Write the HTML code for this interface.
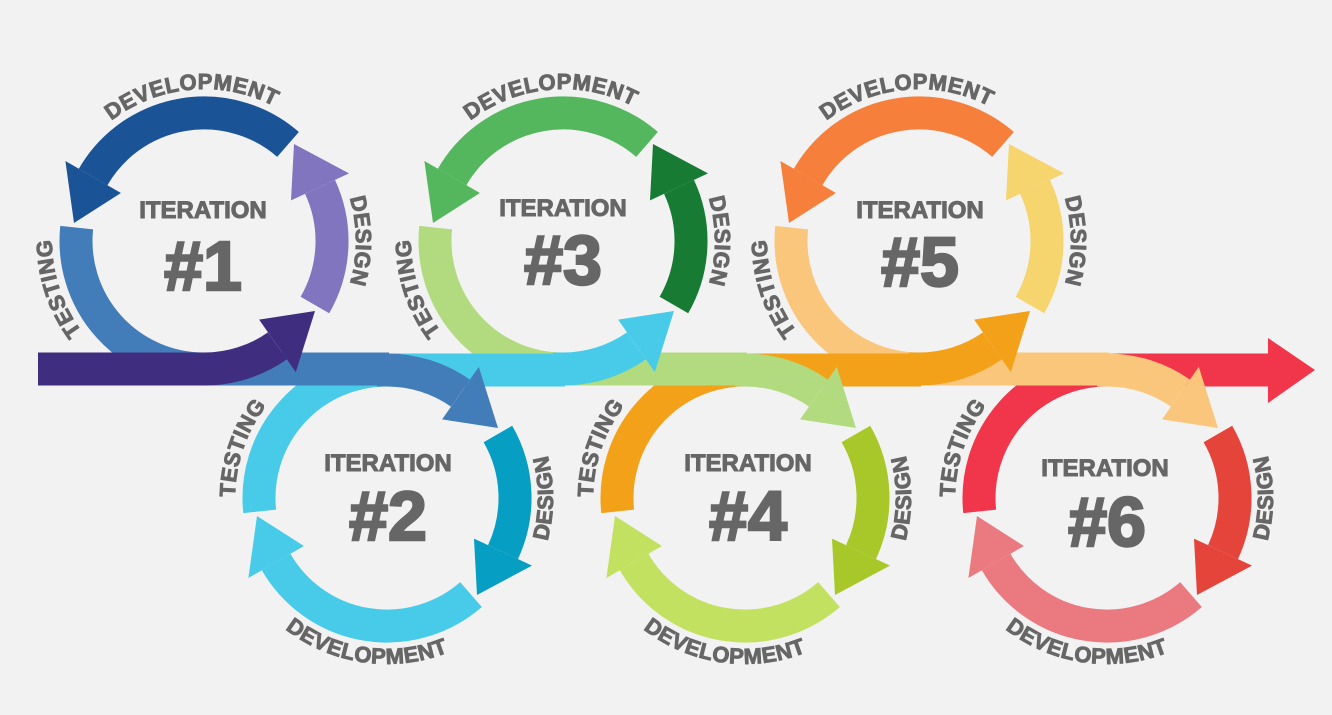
<!DOCTYPE html>
<html><head><meta charset="utf-8"><style>
html,body{margin:0;padding:0;background:#f2f2f2;}
svg{display:block;}
.lbl{font-family:"Liberation Sans",sans-serif;font-weight:bold;font-size:22px;letter-spacing:0.5px;fill:#666;stroke:#666;stroke-width:0.9px;}
.it{font-family:"Liberation Sans",sans-serif;font-weight:bold;font-size:24px;fill:#666;text-anchor:middle;stroke:#666;stroke-width:1px;}
.num{font-family:"Liberation Sans",sans-serif;font-weight:bold;font-size:70px;fill:#666;text-anchor:middle;stroke:#666;stroke-width:2.5px;}
path.s{fill:none;stroke-width:33;stroke-linecap:butt;}
</style></head><body>
<svg width="1332" height="715" viewBox="0 0 1332 715" xmlns="http://www.w3.org/2000/svg">
<rect width="1332" height="715" fill="#f2f2f2"/>

<g transform="translate(1107,498) scale(1,-1)">
 <path class="s" stroke="#f1354a" d="M-127.3,-13.4 A128,128 0 0 0 0,128 H163"/>
</g>
<polygon fill="#f1354a" points="1268,338 1315,370 1268,403"/>
<g transform="translate(919,241)">
 <path class="s" stroke="#f9c67c" d="M-127.3,-13.4 A128,128 0 0 0 0,128 H190"/>
</g>
<g transform="translate(1107,498) scale(1,-1)">
 <path class="s" stroke="#f9c67c" d="M-10,128 H0 A128,128 0 0 0 73.4,104.9"/>
 <polygon fill="#f9c67c" points="55.1,78.6 111,70 91.8,131.1"/>
</g>
<g transform="translate(745,498) scale(1,-1)">
 <path class="s" stroke="#f3a118" d="M-127.3,-13.4 A128,128 0 0 0 0,128 H176"/>
</g>
<g transform="translate(919,241)">
 <path class="s" stroke="#f3a118" d="M-10,128 H0 A128,128 0 0 0 73.4,104.9"/>
 <polygon fill="#f3a118" points="55.1,78.6 111,70 91.8,131.1"/>
</g>
<g transform="translate(563,241)">
 <path class="s" stroke="#b2db80" d="M-127.3,-13.4 A128,128 0 0 0 0,128 H184"/>
</g>
<g transform="translate(745,498) scale(1,-1)">
 <path class="s" stroke="#b2db80" d="M-10,128 H0 A128,128 0 0 0 73.4,104.9"/>
 <polygon fill="#b2db80" points="55.1,78.6 111,70 91.8,131.1"/>
</g>
<g transform="translate(387,498) scale(1,-1)">
 <path class="s" stroke="#48cbe8" d="M-127.3,-13.4 A128,128 0 0 0 0,128 H178"/>
</g>
<g transform="translate(563,241)">
 <path class="s" stroke="#48cbe8" d="M-10,128 H0 A128,128 0 0 0 73.4,104.9"/>
 <polygon fill="#48cbe8" points="55.1,78.6 111,70 91.8,131.1"/>
</g>
<g transform="translate(204,241)">
 <path class="s" stroke="#427cb9" d="M-127.3,-13.4 A128,128 0 0 0 0,128 H185"/>
</g>
<g transform="translate(387,498) scale(1,-1)">
 <path class="s" stroke="#427cb9" d="M-10,128 H0 A128,128 0 0 0 73.4,104.9"/>
 <polygon fill="#427cb9" points="55.1,78.6 111,70 91.8,131.1"/>
</g>
<g transform="translate(204,241)">
 <path class="s" stroke="#3f2e7f" d="M-166,128 H0 A128,128 0 0 0 73.4,104.9"/>
 <polygon fill="#3f2e7f" points="55.1,78.6 111,70 91.8,131.1"/>
</g>

<g transform="translate(204,241)">
 <path class="s" stroke="#1b5397" d="M84,-96.6 A128,128 0 0 0 -110.9,-64"/>
 <polygon fill="#1b5397" points="-138.6,-80 -130,-18 -83.1,-48"/>
 <path class="s" stroke="#8175bf" d="M110.9,64 A128,128 0 0 0 116,-54.1"/>
 <polygon fill="#8175bf" points="87,-40.6 90,-97 145,-67.6"/>
</g>
<g transform="translate(387,498) scale(1,-1)">
 <path class="s" stroke="#48cbe8" d="M84,-96.6 A128,128 0 0 0 -110.9,-64"/>
 <polygon fill="#48cbe8" points="-138.6,-80 -130,-18 -83.1,-48"/>
 <path class="s" stroke="#069ec2" d="M110.9,64 A128,128 0 0 0 116,-54.1"/>
 <polygon fill="#069ec2" points="87,-40.6 90,-97 145,-67.6"/>
</g>
<g transform="translate(563,241)">
 <path class="s" stroke="#55b75d" d="M84,-96.6 A128,128 0 0 0 -110.9,-64"/>
 <polygon fill="#55b75d" points="-138.6,-80 -130,-18 -83.1,-48"/>
 <path class="s" stroke="#177b34" d="M110.9,64 A128,128 0 0 0 116,-54.1"/>
 <polygon fill="#177b34" points="87,-40.6 90,-97 145,-67.6"/>
</g>
<g transform="translate(745,498) scale(1,-1)">
 <path class="s" stroke="#c3e160" d="M84,-96.6 A128,128 0 0 0 -110.9,-64"/>
 <polygon fill="#c3e160" points="-138.6,-80 -130,-18 -83.1,-48"/>
 <path class="s" stroke="#a8c82a" d="M110.9,64 A128,128 0 0 0 116,-54.1"/>
 <polygon fill="#a8c82a" points="87,-40.6 90,-97 145,-67.6"/>
</g>
<g transform="translate(919,241)">
 <path class="s" stroke="#f57f3b" d="M84,-96.6 A128,128 0 0 0 -110.9,-64"/>
 <polygon fill="#f57f3b" points="-138.6,-80 -130,-18 -83.1,-48"/>
 <path class="s" stroke="#f6d46e" d="M110.9,64 A128,128 0 0 0 116,-54.1"/>
 <polygon fill="#f6d46e" points="87,-40.6 90,-97 145,-67.6"/>
</g>
<g transform="translate(1107,498) scale(1,-1)">
 <path class="s" stroke="#eb7a80" d="M84,-96.6 A128,128 0 0 0 -110.9,-64"/>
 <polygon fill="#eb7a80" points="-138.6,-80 -130,-18 -83.1,-48"/>
 <path class="s" stroke="#e5443b" d="M110.9,64 A128,128 0 0 0 116,-54.1"/>
 <polygon fill="#e5443b" points="87,-40.6 90,-97 145,-67.6"/>
</g>

<defs>
 <path id="tDev" d="M-142.8,-52 A152,152 0 0 1 131.6,-76"/>
 <path id="tDes" d="M76,-131.6 A152,152 0 0 1 76,131.6"/>
 <path id="tTest" d="M-31.6,148.7 A152,152 0 0 1 -113,-101.7"/>
 <path id="bTest" d="M-114.7,99.7 A152,152 0 0 1 -29,-149.2"/>
 <path id="bDes" d="M83,143.8 A166,166 0 0 0 83,-143.8"/>
 <path id="bDev" d="M-158.7,48.5 A166,166 0 0 0 139.2,90.4"/>
</defs>

<g transform="translate(204,241)">
 <text class="lbl" text-anchor="middle"><textPath href="#tDev" startOffset="50%">DEVELOPMENT</textPath></text>
 <text class="lbl" text-anchor="middle"><textPath href="#tDes" startOffset="50%">DESIGN</textPath></text>
 <text class="lbl" text-anchor="middle"><textPath href="#tTest" startOffset="50%">TESTING</textPath></text>
</g>
<g transform="translate(563,241)">
 <text class="lbl" text-anchor="middle"><textPath href="#tDev" startOffset="50%">DEVELOPMENT</textPath></text>
 <text class="lbl" text-anchor="middle"><textPath href="#tDes" startOffset="50%">DESIGN</textPath></text>
 <text class="lbl" text-anchor="middle"><textPath href="#tTest" startOffset="50%">TESTING</textPath></text>
</g>
<g transform="translate(919,241)">
 <text class="lbl" text-anchor="middle"><textPath href="#tDev" startOffset="50%">DEVELOPMENT</textPath></text>
 <text class="lbl" text-anchor="middle"><textPath href="#tDes" startOffset="50%">DESIGN</textPath></text>
 <text class="lbl" text-anchor="middle"><textPath href="#tTest" startOffset="50%">TESTING</textPath></text>
</g>
<g transform="translate(387,498)">
 <text class="lbl" text-anchor="middle"><textPath href="#bDev" startOffset="50%">DEVELOPMENT</textPath></text>
 <text class="lbl" text-anchor="middle"><textPath href="#bDes" startOffset="50%">DESIGN</textPath></text>
 <text class="lbl" text-anchor="middle"><textPath href="#bTest" startOffset="50%">TESTING</textPath></text>
</g>
<g transform="translate(745,498)">
 <text class="lbl" text-anchor="middle"><textPath href="#bDev" startOffset="50%">DEVELOPMENT</textPath></text>
 <text class="lbl" text-anchor="middle"><textPath href="#bDes" startOffset="50%">DESIGN</textPath></text>
 <text class="lbl" text-anchor="middle"><textPath href="#bTest" startOffset="50%">TESTING</textPath></text>
</g>
<g transform="translate(1107,498)">
 <text class="lbl" text-anchor="middle"><textPath href="#bDev" startOffset="50%">DEVELOPMENT</textPath></text>
 <text class="lbl" text-anchor="middle"><textPath href="#bDes" startOffset="50%">DESIGN</textPath></text>
 <text class="lbl" text-anchor="middle"><textPath href="#bTest" startOffset="50%">TESTING</textPath></text>
</g>

<text class="it" x="203" y="218">ITERATION</text>
<text class="num" x="203" y="290">#1</text>
<text class="it" x="388" y="471">ITERATION</text>
<text class="num" x="388" y="540">#2</text>
<text class="it" x="563" y="216">ITERATION</text>
<text class="num" x="563" y="284">#3</text>
<text class="it" x="748" y="471">ITERATION</text>
<text class="num" x="748" y="540">#4</text>
<text class="it" x="920" y="218">ITERATION</text>
<text class="num" x="920" y="286">#5</text>
<text class="it" x="1105" y="476">ITERATION</text>
<text class="num" x="1107" y="546">#6</text>
</svg>
</body></html>
